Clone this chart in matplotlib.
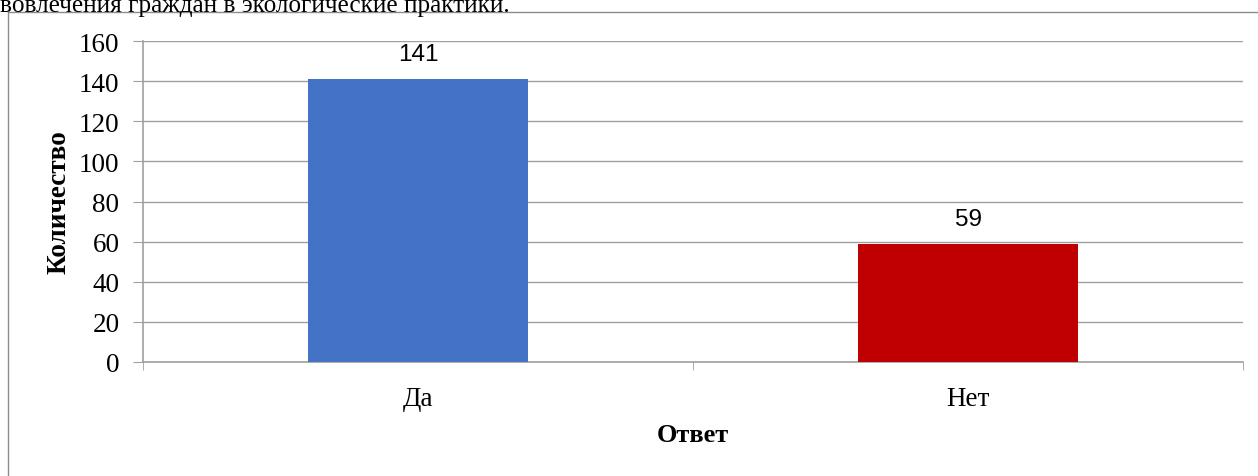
import matplotlib
matplotlib.use("Agg")
import matplotlib.pyplot as plt
from matplotlib.lines import Line2D

categories = ["Да", "Нет"]
values = [141, 59]
bar_colors = ["#4472C4", "#C00000"]
yticks = [0, 20, 40, 60, 80, 100, 120, 140, 160]
caption = "вовлечения граждан в экологические практики."

W, H = 1258, 477
fig = plt.figure(figsize=(W / 100, H / 100), dpi=100)
serif = ["Liberation Serif", "DejaVu Serif"]
sans = ["Liberation Sans", "DejaVu Sans"]

def fx(px):
    return px / W

def fy(py):
    return 1 - py / H

# caption text cut off at the top (as in the reference)
fig.text(fx(0), fy(12), caption, fontsize=18.2, family=serif, ha="left", va="baseline", color="black")

# outer chart frame
frame_col = "#8c8c8c"
fig.add_artist(Line2D([fx(7.5), fx(7.5)], [fy(13), 0], transform=fig.transFigure, color=frame_col, lw=1))
fig.add_artist(Line2D([fx(7.5), 1], [fy(13), fy(13)], transform=fig.transFigure, color=frame_col, lw=1))

ax = fig.add_axes([fx(143), fy(363), fx(1243) - fx(143), (363 - 42) / H])
x = range(len(categories))
bars = ax.bar(x, values, width=0.4, color=bar_colors, zorder=3)
ax.set_xlim(-0.5, len(categories) - 0.5)
ax.set_ylim(0, 160)
ax.set_yticks(yticks)
ax.set_yticklabels([str(t) for t in yticks], family=serif, fontsize=19.5)
ax.set_xticks([-0.5, 0.5, 1.5], minor=True)
ax.set_xticks(list(x))
ax.set_xticklabels(categories, family=serif, fontsize=19.5)
ax.tick_params(axis="x", which="major", length=0, pad=17)
ax.tick_params(axis="x", which="minor", length=6, color="#a0a0a0", direction="out")
ax.tick_params(axis="y", length=7, color="#a0a0a0", pad=10)
ax.grid(axis="y", color="#a0a0a0", lw=1, zorder=0)
for s in ["top", "right"]:
    ax.spines[s].set_visible(False)
for s in ["left", "bottom"]:
    ax.spines[s].set_color("#a0a0a0")
    ax.spines[s].set_linewidth(1.2)

for b, v in zip(bars, values):
    ax.annotate(str(v), (b.get_x() + b.get_width() / 2, v), xytext=(0, 10), textcoords="offset points",
                ha="center", va="bottom", family=sans, fontsize=17.5)

ax.set_ylabel("Количество", family=serif, fontsize=19.5, fontweight="bold", labelpad=5)
ax.set_xlabel("Ответ", family=serif, fontsize=19, fontweight="bold", labelpad=9)

fig.savefig("out.png", dpi=100)
